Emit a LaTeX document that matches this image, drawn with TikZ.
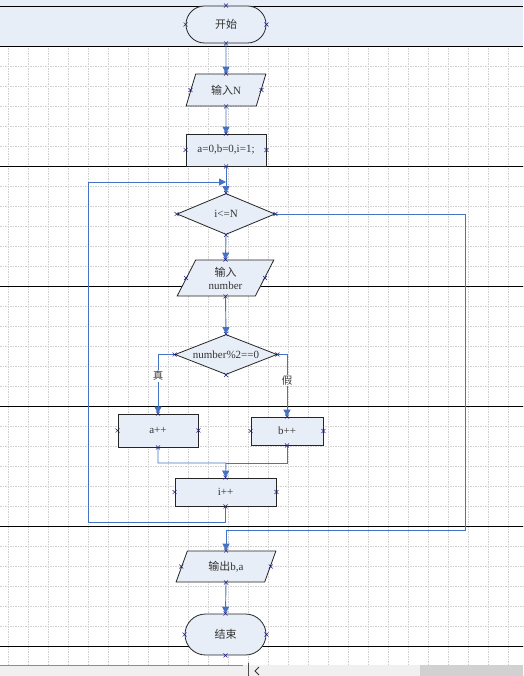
\documentclass[tikz,border=0pt]{standalone}
\usepackage{fontspec}
\setmainfont{Liberation Serif}
\newfontfamily\cjk{Noto Sans CJK SC}
\usetikzlibrary{shapes.geometric,shapes.misc,arrows.meta}
\definecolor{shapefill}{RGB}{232,238,247}
\definecolor{flowblue}{RGB}{68,114,196}
\definecolor{marknavy}{RGB}{30,30,130}
\definecolor{gridgray}{RGB}{208,208,208}
\begin{document}
\begin{tikzpicture}[x=1pt, y=-1pt, >={Triangle[length=7pt,width=7pt]},
  box/.style={draw=black!85, line width=0.8pt, fill=shapefill, inner sep=0pt,
    font=\fontsize{11}{13}\selectfont, text=black!80},
  term/.style={box, rounded rectangle},
  io/.style={box, trapezium, trapezium left angle=65, trapezium right angle=115,
    trapezium stretches=true},
  proc/.style={box, rectangle},
  test/.style={box, diamond, aspect=2.5},
  flow/.style={draw=flowblue, line width=0.9pt},
  lbl/.style={fill=white, inner sep=1pt, font=\cjk\fontsize{10.5}{12}\selectfont, text=black!75},
  xm/.style={draw=marknavy, line width=0.5pt}]
  \useasboundingbox (0,0) rectangle (523,676);
  % page grid
  \fill[white] (0,0) rectangle (523,676);
  \fill[shapefill] (0,0) rectangle (523,46);
  \foreach \gx in {8,28,...,520}
    \draw[gridgray, line width=0.4pt, dash pattern=on 1.5pt off 1pt] (\gx,46) -- (\gx,665);
  \foreach \gy in {66,86,...,660}
    \draw[gridgray, line width=0.4pt, dash pattern=on 1.5pt off 1pt] (0,\gy) -- (523,\gy);
  \foreach \ly in {6,46,166,286,406,526,646}
    \draw[black, line width=0.9pt] (0,\ly) -- (523,\ly);
  % scroll bar
  \fill[black!6] (0,665) rectangle (523,676);
  \draw[black!45, line width=0.6pt] (0,665) -- (243,665);
  \draw[black!70, line width=0.8pt] (248,663) -- (248,676);
  \draw[black!80, line width=0.9pt] (259,667) -- (255,671) -- (259,675);
  \fill[black!18] (420,665) rectangle (523,676);
  % shapes
  \node[term, minimum width=80, minimum height=37] (start) at (226,24.5) {\cjk 开始};
  \node[io, minimum width=80, minimum height=32] (inN) at (226,90) {{\cjk 输入}N};
  \node[proc, minimum width=80, minimum height=32] (init) at (226,150) {a=0,b=0,i=1;};
  \node[test, minimum width=98, minimum height=41] (cond) at (226,214) {i<=N};
  \node[io, minimum width=97, minimum height=36, align=center] (inNum) at (225.5,278)
    {{\cjk 输入}\\number};
  \node[test, minimum width=102, minimum height=40] (par) at (226,354.5) {number\%2==0};
  \node[proc, minimum width=80, minimum height=33] (aa) at (158,430.5) {a++};
  \node[proc, minimum width=72, minimum height=28] (bb) at (287,431) {b++};
  \node[proc, minimum width=101, minimum height=28] (inc) at (225.5,492) {i++};
  \node[io, minimum width=100, minimum height=31] (out) at (226,566.5) {{\cjk 输出}b,a};
  \node[term, minimum width=81, minimum height=41] (stop) at (225.5,634.5) {\cjk 结束};
  \coordinate (join) at (226,182);
  \coordinate (loopL) at (88,522);
  \coordinate (exitR) at (465,530);
  \coordinate (merge) at (226,463);
  % connectors
  \draw[flow,->] (start.south) -- (inN.north);
  \draw[flow,->] (inN.south) -- (init.north);
  \draw[flow,->] (init.south) -- (cond.north);
  \draw[flow,->] (inc.south) |- (loopL) |- (join);
  \draw[flow,->] (cond.east) -| (exitR) -| (out.north);
  \draw[flow,->] (cond.south) -- (inNum.north);
  \draw[flow,->] (inNum.south) -- (par.north);
  \draw[flow,->] (par.west) -| (aa.north) node[lbl, pos=0.68] (yes) {真};
  \draw[flow,->] (par.east) -| (bb.north) node[lbl, pos=0.71] (no) {假};
  \draw[flow,->] (aa.south) |- (merge) -- (inc.north);
  \draw[flow] (bb.south) |- (merge);
  \draw[flow,->] (out.south) -- (stop.north);
  % connection points
  \foreach \n in {start,inN,init,cond,inNum,par,aa,bb,inc,out,stop}
    \foreach \a in {north,south,east,west}
      \draw[xm] (\n.\a) +(-2,-2) -- +(2,2) +(-2,2) -- +(2,-2);
\end{tikzpicture}
\end{document}
